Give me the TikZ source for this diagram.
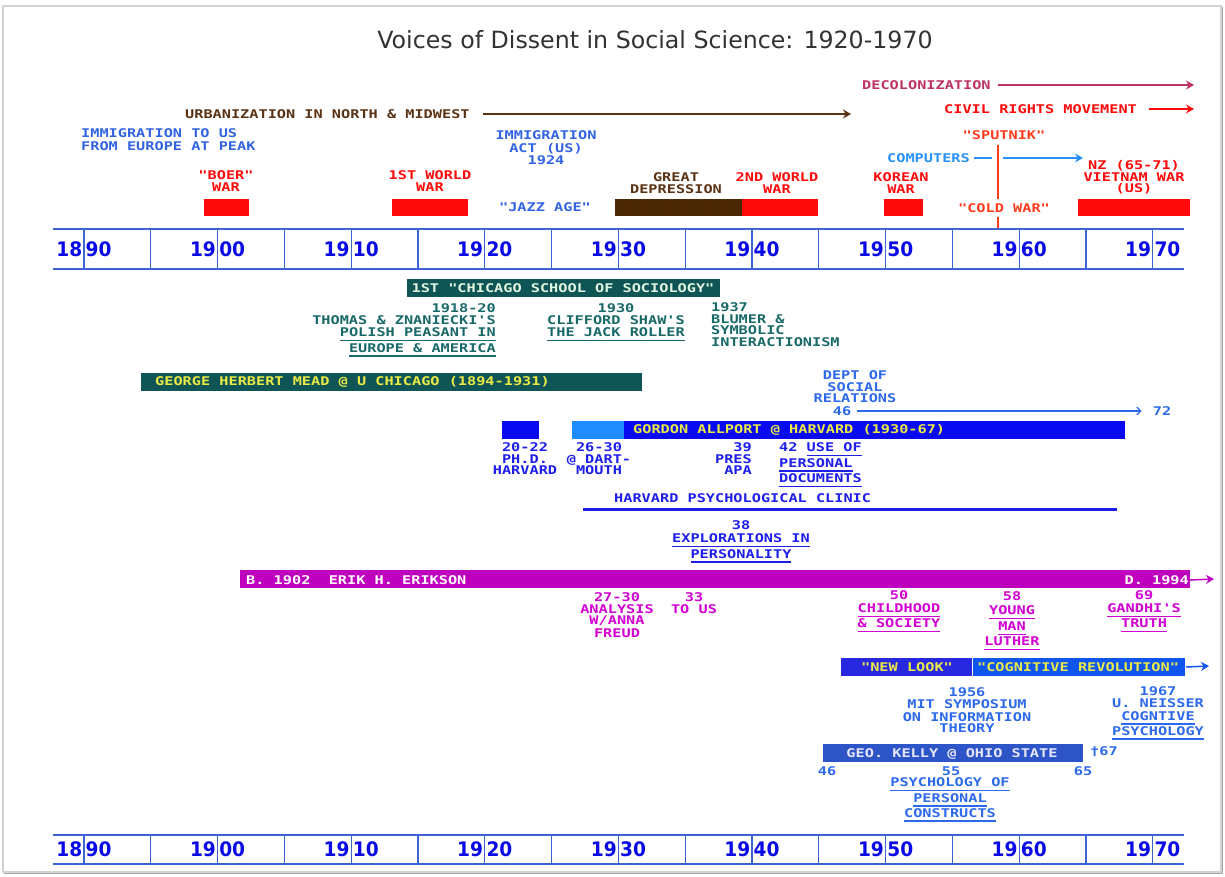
\documentclass[tikz,border=0pt]{standalone}
\usepackage{fontspec}
\usetikzlibrary{arrows.meta,calc}
\newfontfamily\pixfont[FakeStretch=1.27]{DejaVu Sans Mono}
\newfontfamily\yearfont[FakeStretch=0.93]{DejaVu Sans}
\newfontfamily\titlefont{DejaVu Sans}
% underline that adds no depth to the line
\newcommand{\ulin}[1]{\leavevmode\setbox0\hbox{#1}\rlap{\raisebox{-4.5pt}[0pt][0pt]{\rule{\wd0}{1.5pt}}}\box0}

\definecolor{titlegray}{RGB}{50,50,50}
\definecolor{axisblue}{RGB}{60,100,210}
\definecolor{yearblue}{RGB}{10,10,230}
\definecolor{decolred}{RGB}{190,50,100}
\definecolor{urbbrown}{RGB}{90,50,20}
\definecolor{warred}{RGB}{255,10,10}
\definecolor{coldred}{RGB}{255,60,30}
\definecolor{immblue}{RGB}{50,100,225}
\definecolor{compblue}{RGB}{40,145,255}
\definecolor{deprbrown}{RGB}{75,40,5}
\definecolor{chiteal}{RGB}{15,85,85}
\definecolor{tealtxt}{RGB}{25,105,105}
\definecolor{paletxt}{RGB}{225,245,225}
\definecolor{baryellow}{RGB}{235,235,70}
\definecolor{phdblue}{RGB}{10,10,240}
\definecolor{dartblue}{RGB}{30,140,255}
\definecolor{lblblue}{RGB}{30,30,235}
\definecolor{deptblue}{RGB}{45,105,235}
\definecolor{erikmag}{RGB}{190,0,190}
\definecolor{magtxt}{RGB}{210,0,210}
\definecolor{lookblue}{RGB}{40,40,225}
\definecolor{cogblue}{RGB}{15,85,240}
\definecolor{kellyblue}{RGB}{45,85,200}
\definecolor{kellytxt}{RGB}{230,230,255}

\tikzset{
  lbl/.style={font=\pixfont\bfseries\fontsize{12}{11.5}\selectfont, inner sep=0pt},
  yr/.style={font=\yearfont\bfseries\fontsize{20}{20}\selectfont, text=yearblue,
    inner sep=0pt, text height=14.6pt, text depth=0pt},
  tip/.style={-{Stealth[length=8pt,width=9pt]}}
}

\begin{document}
\begin{tikzpicture}[x=1pt,y=-1pt]
\useasboundingbox (0,0) rectangle (1225,876);
\draw[gray!35, line width=1.5pt] (3,6) rectangle (1221,872);
\draw[gray!70, line width=1.5pt] (1222.5,7) -- (1222.5,873.5) -- (4,873.5);

\node[font=\titlefont\fontsize{23.7}{24}\selectfont, text=titlegray] (title) at (655,40)
  {Voices of Dissent in Social Science: 1920-1970};

% long running trends
\node[lbl, text=decolred, anchor=west] (decol) at (862,85) {DECOLONIZATION};
\coordinate (decolend) at (1194,85);
\draw[decolred, line width=1.3pt, tip] ([xshift=7pt]decol.east) -- (decolend);
\node[lbl, text=urbbrown, anchor=west] (urban) at (185,114) {URBANIZATION IN NORTH \& MIDWEST};
\coordinate (urbanend) at (851,114);
\draw[urbbrown, line width=1.3pt, tip] ([xshift=13pt]urban.east) -- (urbanend);
\node[lbl, text=warred, anchor=west] (civil) at (944,109) {CIVIL RIGHTS MOVEMENT};
\coordinate (civilend) at (1194,109);
\draw[warred, line width=1.3pt, tip] ([xshift=12pt]civil.east) -- (civilend);

\node[lbl, text=immblue, align=left, anchor=north west] (immig) at (81,128.5)
  {IMMIGRATION TO US\\[1pt]FROM EUROPE AT PEAK};
\node[lbl, text=immblue, align=center, anchor=north] (immact) at (546,130.5)
  {IMMIGRATION\\[1pt]ACT (US)\\[1pt]1924};
\node[lbl, text=immblue] (jazz) at (545,207) {"JAZZ AGE"};

% sputnik and cold war
\node[lbl, text=coldred] (sputnik) at (1004,135) {"SPUTNIK"};
\coordinate (axtop) at (998,229);
\draw[coldred, line width=1.3pt] (sputnik.south -| axtop) ++(0,5) -- (axtop);
\node[lbl, text=coldred, fill=white, inner xsep=1pt, inner ysep=4pt] (coldwar) at (1004,208) {"COLD WAR"};
\node[lbl, text=compblue, anchor=west] (comp) at (887,158) {COMPUTERS};
\coordinate (compend) at (1083,158);
\draw[compblue, line width=1.3pt] ([xshift=4pt]comp.east) -- ($(comp.east -| axtop)+(-6,0)$);
\draw[compblue, line width=1.3pt, tip] ($(comp.east -| axtop)+(5,0)$) -- (compend);

% wars and depression
\fill[warred] (204,199) rectangle (249,216);
\fill[warred] (392,199) rectangle (468,216);
\fill[deprbrown] (615,199) rectangle (742,216);
\foreach \i in {0,...,11}
  \foreach \j in {0,1,2}
    \fill[red!45!deprbrown] ({621+\i*10+mod(\j,2)*5},{203+\j*5}) circle (0.6);
\fill[warred] (742,199) rectangle (818,216);
\fill[warred] (884,199) rectangle (923,216);
\fill[warred] (1078,199) rectangle (1190,216);
\node[lbl, text=warred, align=center, anchor=north] (boer) at (226,170.5) {"BOER"\\WAR};
\node[lbl, text=warred, align=center, anchor=north] (wwone) at (430,170.5) {1ST WORLD\\WAR};
\node[lbl, text=urbbrown, align=center, anchor=north] (depr) at (676,172.5) {GREAT\\DEPRESSION};
\node[lbl, text=warred, align=center, anchor=north] (wwtwo) at (777,172.5) {2ND WORLD\\WAR};
\node[lbl, text=warred, align=center, anchor=north] (korea) at (901,172.5) {KOREAN\\WAR};
\node[lbl, text=warred, align=center, anchor=north] (vietnam) at (1134,160.5) {NZ (65-71)\\VIETNAM WAR\\(US)};

% year axes
\foreach \ya/\yb/\nm in {229/269/top,835/864/bot}{
  \draw[axisblue, line width=2pt] (53,\ya) -- (1184,\ya) (53,\yb) -- (1184,\yb);
  \foreach \k in {0,...,16}
    \draw[axisblue, line width=1.2pt] ({84+\k*66.8},\ya) -- ({84+\k*66.8},\yb);
  \foreach \d [count=\k from 0] in {90,00,10,20,30,40,50,60,70}{
    \node[yr, anchor=east] (\nm-c\k) at ({82.5+\k*133.6},{(\ya+\yb)/2}) {\ifnum\k=0 18\else 19\fi};
    \node[yr, anchor=west] (\nm-d\k) at ({85.5+\k*133.6},{(\ya+\yb)/2}) {\d};
  }
}

% chicago school
\fill[chiteal] (407,279) rectangle (720,297);
\node[lbl, text=paletxt] (chicago) at (563,288) {1ST "CHICAGO SCHOOL OF SOCIOLOGY"};
\node[lbl, text=tealtxt, align=right, anchor=north east] (thomas) at (496,303.5)
  {1918-20\\THOMAS \& ZNANIECKI'S\\[1pt]\ulin{POLISH PEASANT IN}\\[4pt]\ulin{EUROPE \& AMERICA}};
\node[lbl, text=tealtxt, align=center, anchor=north] (shaw) at (616,303.5)
  {1930\\CLIFFORD SHAW'S\\[1pt]\ulin{THE JACK ROLLER}};
\node[lbl, text=tealtxt, align=left, anchor=north west] (blumer) at (711,302.5)
  {1937\\BLUMER \&\\SYMBOLIC\\INTERACTIONISM};
\fill[chiteal] (141,373) rectangle (642,391);
\node[lbl, text=baryellow, anchor=west] (mead) at (155,382) {GEORGE HERBERT MEAD @ U CHICAGO (1894-1931)};

% allport at harvard
\node[lbl, text=deptblue, align=center, anchor=north] (dept) at (855,370.5) {DEPT OF\\SOCIAL\\RELATIONS};
\node[lbl, text=deptblue] (d46) at (842,411) {46};
\node[lbl, text=deptblue] (d72) at (1162,411) {72};
\draw[deptblue, line width=1.2pt, -{Straight Barb[length=4pt,width=8pt]}] ([xshift=6pt]d46.east) -- ([xshift=-11pt]d72.west);
\fill[phdblue] (502,421) rectangle (539,439);
\fill[dartblue] (572,421) rectangle (624,439);
\fill[phdblue] (624,421) rectangle (1125,439);
\node[lbl, text=baryellow, anchor=west] (allport) at (633,430) {GORDON ALLPORT @ HARVARD (1930-67)};
\node[lbl, text=lblblue, align=center, anchor=north] (phd) at (525,442.5) {20-22\\PH.D.\\HARVARD};
\node[lbl, text=lblblue, align=center, anchor=north] (dart) at (599,442.5) {26-30\\@ DART-\\MOUTH};
\node[lbl, text=lblblue, align=right, anchor=north east] (pres) at (752,442.5) {39\\PRES\\APA};
\node[lbl, text=lblblue, align=left, anchor=north west] (docs) at (779,442.5)
  {42 \ulin{USE OF}\\[4pt]\ulin{PERSONAL}\\[4pt]\ulin{DOCUMENTS}};
\node[lbl, text=lblblue, anchor=west] (clinic) at (614,498) {HARVARD PSYCHOLOGICAL CLINIC};
\coordinate (clinicL) at (583,509);
\coordinate (clinicR) at (1117,509);
\draw[lblblue, line width=3pt] (clinicL) -- (clinicR);
\node[lbl, text=lblblue, align=center, anchor=north] (explor) at (741,520.5)
  {38\\[1.5pt]\ulin{EXPLORATIONS IN}\\[4pt]\ulin{PERSONALITY}};

% erikson
\fill[erikmag] (240,570) rectangle (1190,588);
\node[lbl, text=white, anchor=west] (erik) at (246,580) {B. 1902\ \ ERIK H. ERIKSON};
\node[lbl, text=white, anchor=east] (died) at (1189,580) {D. 1994};
\coordinate (erikend) at (1214,579);
\draw[erikmag, line width=1.5pt, tip] ([xshift=1pt]died.east) -- (erikend);
\node[lbl, text=magtxt, align=center, anchor=north] (freud) at (617,592.5) {27-30\\ANALYSIS\\W/ANNA\\[1pt]FREUD};
\node[lbl, text=magtxt, align=center, anchor=north] (tous) at (694,592.5) {33\\TO US};
\node[lbl, text=magtxt, align=center, anchor=north] (child) at (899,590.5)
  {50\\[1.5pt]\ulin{CHILDHOOD}\\[3.5pt]\ulin{\&\ SOCIETY}};
\node[lbl, text=magtxt, align=center, anchor=north] (luther) at (1012,591.5)
  {58\\[2.5pt]\ulin{YOUNG}\\[4.5pt]\ulin{MAN}\\[3.5pt]\ulin{LUTHER}};
\node[lbl, text=magtxt, align=center, anchor=north] (gandhi) at (1144,590.5)
  {69\\[1.5pt]\ulin{GANDHI'S}\\[3.5pt]\ulin{TRUTH}};

% cognitive revolution
\fill[lookblue] (841,658) rectangle (972,676);
\fill[cogblue] (973,658) rectangle (1185,676);
\node[lbl, text=baryellow] (newlook) at (907,667) {"NEW LOOK"};
\node[lbl, text=baryellow] (cogrev) at (1078,667) {"COGNITIVE REVOLUTION"};
\coordinate (cogend) at (1209,666);
\draw[cogblue, line width=1.5pt, tip] ([xshift=7pt]cogrev.east) -- (cogend);
\node[lbl, text=deptblue, align=center, anchor=north] (mit) at (967,687.5)
  {1956\\MIT SYMPOSIUM\\[1.5pt]ON INFORMATION\\THEORY};
\node[lbl, text=deptblue, align=center, anchor=north] (neisser) at (1158,686.5)
  {1967\\U. NEISSER\\[1.5pt]\ulin{COGNTIVE}\\[3.5pt]\ulin{PSYCHOLOGY}};

% kelly
\fill[kellyblue] (823,744) rectangle (1083,762);
\node[lbl, text=kellytxt] (kelly) at (952,754) {GEO. KELLY @ OHIO STATE};
\node[lbl, text=deptblue, anchor=west] (kdied) at (1090,752) {†67};
\node[lbl, text=deptblue] (k46) at (827,771) {46};
\node[lbl, text=deptblue] (k55) at (951,771) {55};
\node[lbl, text=deptblue] (k65) at (1083,771) {65};
\node[lbl, text=deptblue, align=center, anchor=north] (constr) at (950,777.5)
  {\ulin{PSYCHOLOGY OF}\\[4pt]\ulin{PERSONAL}\\[3.5pt]\ulin{CONSTRUCTS}};
\end{tikzpicture}
\end{document}
